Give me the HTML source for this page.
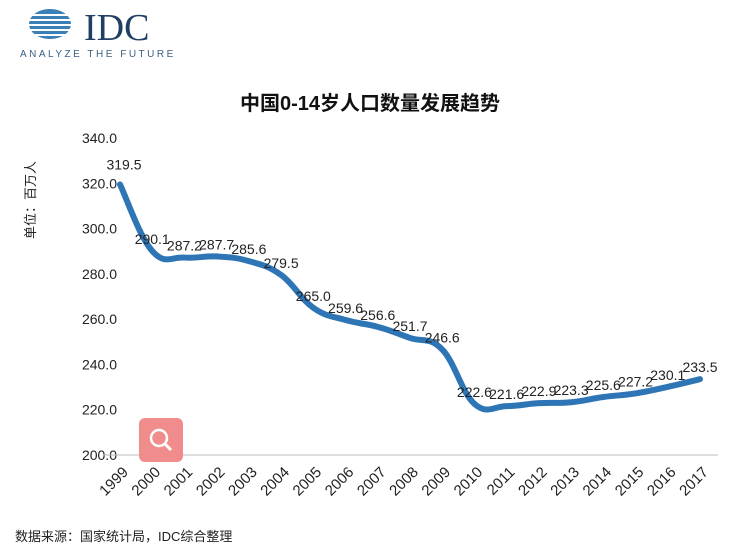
<!DOCTYPE html>
<html><head><meta charset="utf-8"><style>
body{margin:0;background:#fff;width:740px;height:560px;overflow:hidden;font-family:"Liberation Sans","Noto Sans CJK SC",sans-serif}
</style></head><body>
<svg width="740" height="560" style="position:absolute;left:0;top:0">
<g>
<ellipse cx="50" cy="24" rx="21" ry="15" fill="#3a7fb5"/>
<g stroke="#fff" stroke-width="2"><line x1="20" y1="15" x2="75" y2="15"/><line x1="20" y1="20" x2="75" y2="20"/><line x1="20" y1="25" x2="75" y2="25"/><line x1="20" y1="30" x2="75" y2="30"/><line x1="20" y1="35" x2="75" y2="35"/></g>
<text x="84" y="40" font-family="Liberation Serif,serif" font-size="38" fill="#1f3f63">IDC</text>
<text x="20" y="57" font-size="10" letter-spacing="2.5" fill="#3a5f80">ANALYZE THE FUTURE</text>
</g>
<text x="370" y="110" text-anchor="middle" font-size="20" font-weight="bold" fill="#111">中国0-14岁人口数量发展趋势</text>
<text transform="translate(35,200) rotate(-90)" text-anchor="middle" font-size="13" fill="#222">单位：百万人</text>
<g id="yticks"></g><g id="xticks"></g>
<line x1="103" y1="455" x2="718" y2="455" stroke="#bbb"/>
<path id="line" fill="none" stroke="#2e75b6" stroke-width="6" stroke-linecap="round"/>
<g id="labels"></g>
<rect x="139" y="418" width="44" height="44" rx="6" fill="#f08c8c"/>
<circle cx="159" cy="438" r="8" fill="none" stroke="#fff" stroke-width="2.5"/>
<line x1="165" y1="444" x2="171" y2="450" stroke="#fff" stroke-width="3"/>
<text x="15" y="541" font-size="13" fill="#222">数据来源：国家统计局，IDC综合整理</text>
</svg>
<script>
const years=["1999","2000","2001","2002","2003","2004","2005","2006","2007","2008","2009","2010","2011","2012","2013","2014","2015","2016","2017"];
const values=[319.5,290.1,287.2,287.7,285.6,279.5,265.0,259.6,256.6,251.7,246.6,222.6,221.6,222.9,223.3,225.6,227.2,230.1,233.5];
const yTicks=[200,220,240,260,280,300,320,340];
const ns="http://www.w3.org/2000/svg";
const x=i=>120+i*(580/18), y=v=>455-(v-200)*(317/140);
function mk(t,a,p,txt){const e=document.createElementNS(ns,t);for(const k in a)e.setAttribute(k,a[k]);if(txt!==undefined)e.textContent=txt;p.appendChild(e);return e;}
const yg=document.getElementById('yticks');
yTicks.forEach(v=>{const e=mk('text',{x:117,y:y(v)+5,'text-anchor':'end','font-size':14,fill:'#222'},yg,v.toFixed(1));

});
const xg=document.getElementById('xticks');
years.forEach((yr,i)=>{const e=mk('text',{transform:`translate(${x(i)+9},${473}) rotate(-45)`,'text-anchor':'end','font-size':15,fill:'#222'},xg,yr);

});
const pts=values.map((v,i)=>[x(i),y(v)]);
let d=`M${pts[0][0]},${pts[0][1]}`;
for(let i=0;i<pts.length-1;i++){const p0=pts[Math.max(0,i-1)],p1=pts[i],p2=pts[i+1],p3=pts[Math.min(pts.length-1,i+2)];
const t=0.2;d+=` C${p1[0]+(p2[0]-p0[0])*t},${p1[1]+(p2[1]-p0[1])*t} ${p2[0]-(p3[0]-p1[0])*t},${p2[1]-(p3[1]-p1[1])*t} ${p2[0]},${p2[1]}`;}
document.getElementById('line').setAttribute('d',d);
const lg=document.getElementById('labels');
values.forEach((v,i)=>{const e=mk('text',{x:x(i)+(i==0?4:0),y:y(v)-(i==0?15:7),'text-anchor':'middle','font-size':14,fill:'#222'},lg,v.toFixed(1));

});
</script>
</body></html>
